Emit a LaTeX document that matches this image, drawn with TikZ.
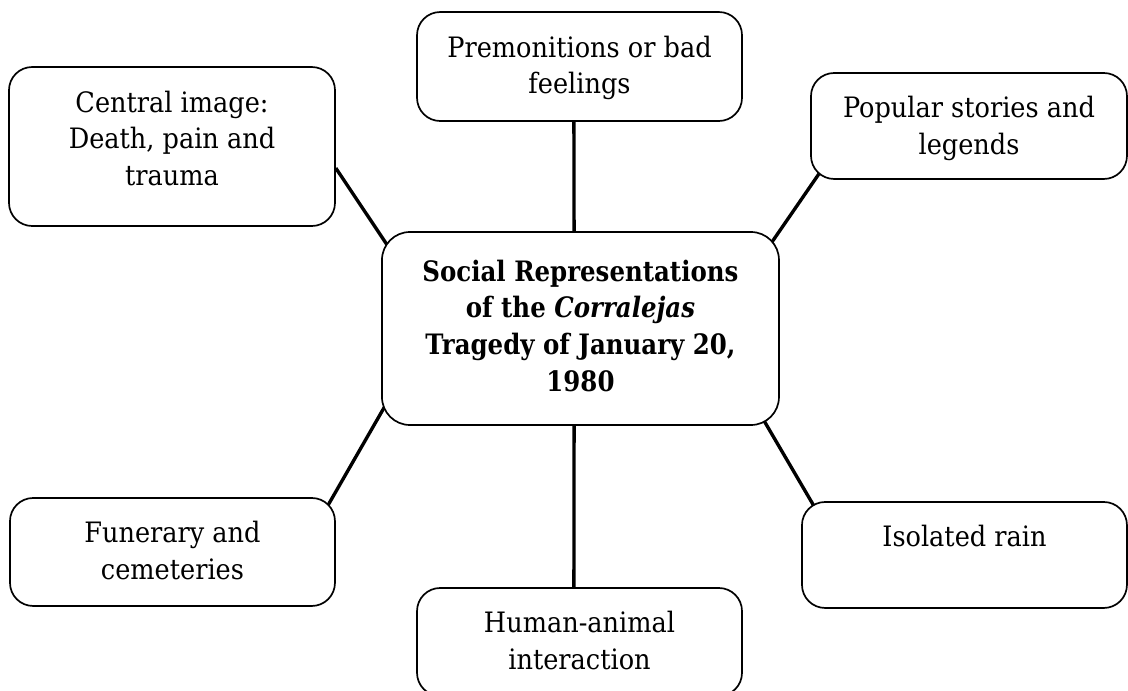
\documentclass[tikz,border=0pt]{standalone}
\usepackage{fontspec}
\setmainfont{DejaVu Serif}[FakeStretch=0.91, BoldFeatures={FakeStretch=0.87}, BoldItalicFeatures={FakeStretch=0.87}]
\usepackage{tikz}
\usetikzlibrary{backgrounds}

\newcommand{\topictext}[2]{\parbox[t]{#1}{\centering #2}}

\begin{document}
\begin{tikzpicture}[font=\fontsize{10pt}{13.15pt}\selectfont,
  topic/.style={draw, fill=white, line width=0.6pt, rounded corners=0.29cm, inner sep=0pt, minimum width=4.0625cm, text height=0.5625cm},
  link/.style={line width=1.2pt}]
  \useasboundingbox (0,0) rectangle (14.1,8.6375);
  % Centre
  \node[topic, rounded corners=0.35cm, minimum width=4.9625cm, text height=0.6125cm, text depth=1.8cm] (soc) at (7.256, 4.531)
    {\topictext{4.8cm}{\bfseries Social Representations\\ of the \textit{Corralejas}\\ Tragedy of January 20,\\ 1980}};
  % Outer topics
  \node[topic, text depth=0.8cm] (prem) at (7.244, 7.806) {\topictext{3.9cm}{Premonitions or bad\\ feelings}};
  \node[topic, minimum width=4.075cm, text depth=1.425cm] (cimg) at (2.15, 6.806) {\topictext{3.9cm}{Central image:\\ Death, pain and\\ trauma}};
  \node[topic, minimum width=3.95cm, text depth=0.7625cm] (pop) at (12.1125, 7.0625) {\topictext{3.8cm}{Popular stories and\\ legends}};
  \node[topic, text depth=0.7875cm] (fun) at (2.156, 1.7375) {\topictext{3.9cm}{Funerary and\\ cemeteries}};
  \node[topic, text depth=0.7625cm] (rain) at (12.056, 1.7) {\topictext{3.9cm}{Isolated rain}};
  \node[topic, text depth=0.7875cm] (hum) at (7.244, 0.6125) {\topictext{3.9cm}{Human-animal\\ interaction}};
  % Links
  \begin{scope}[on background layer]
    \draw[link] ([xshift=-0.07cm]prem.south) -- ([xshift=-0.08cm]soc.north);
    \draw[link] ([xshift=-0.08cm]soc.south) -- ([xshift=-0.07cm]hum.north);
    \draw[link] ([yshift=-0.27cm]cimg.east) -- ([shift={(0.1,-0.21)}]soc.north west);
    \draw[link] ([shift={(0.11,0.075)}]pop.south west) -- ([shift={(-0.125,-0.175)}]soc.north east);
    \draw[link] ([shift={(-0.106,-0.116)}]fun.north east) -- ([shift={(0.044,0.24)}]soc.south west);
    \draw[link] ([shift={(-0.206,0.079)}]soc.south east) -- ([shift={(0.156,-0.054)}]rain.north west);
  \end{scope}
\end{tikzpicture}
\end{document}
